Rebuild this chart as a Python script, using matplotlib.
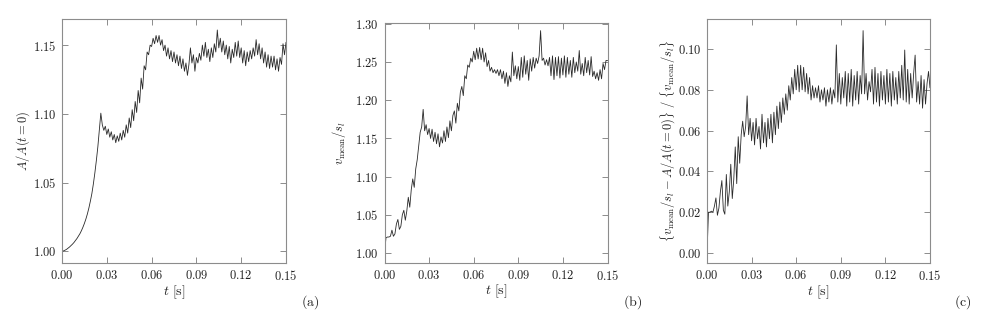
import matplotlib
matplotlib.use("Agg")
import matplotlib.pyplot as plt
import numpy as np
from matplotlib.ticker import FuncFormatter, MultipleLocator

plt.rcParams['mathtext.fontset'] = 'cm'
plt.rcParams['font.family'] = 'serif'
plt.rcParams['font.serif'] = ['DejaVu Serif']

# time axis, one sample every millisecond, 0 ... 0.150 s
t = np.arange(151) / 1000.0

# (a) flame surface area ratio A/A(t=0)
area = [
    1.0000, 1.0003, 1.0008, 1.0014, 1.0022, 1.0031, 1.0041, 1.0052, 1.0064, 1.0078,
    1.0093, 1.0110, 1.0128, 1.0150, 1.0175, 1.0203, 1.0235, 1.0272, 1.0315, 1.0365,
    1.0420, 1.0490, 1.0570, 1.0660, 1.0760, 1.0880, 1.1005, 1.092, 1.088, 1.091,
    1.085, 1.089, 1.083, 1.087, 1.081, 1.085, 1.079, 1.084, 1.080, 1.086,
    1.081, 1.088, 1.083, 1.092, 1.086, 1.097, 1.090, 1.103, 1.095, 1.109,
    1.101, 1.117, 1.108, 1.126, 1.118, 1.135, 1.132, 1.145, 1.143, 1.150,
    1.149, 1.155, 1.151, 1.157, 1.152, 1.157, 1.150, 1.154, 1.146, 1.150,
    1.142, 1.148, 1.140, 1.146, 1.138, 1.145, 1.137, 1.143, 1.135, 1.142,
    1.133, 1.140, 1.131, 1.137, 1.128, 1.136, 1.148, 1.137, 1.143, 1.131,
    1.141, 1.137, 1.144, 1.139, 1.150, 1.142, 1.152, 1.141, 1.147, 1.138,
    1.148, 1.141, 1.151, 1.145, 1.161, 1.148, 1.155, 1.145, 1.153, 1.143,
    1.150, 1.140, 1.149, 1.137, 1.147, 1.141, 1.152, 1.142, 1.153, 1.141,
    1.148, 1.137, 1.146, 1.135, 1.145, 1.138, 1.146, 1.140, 1.148, 1.142,
    1.154, 1.143, 1.151, 1.140, 1.148, 1.137, 1.145, 1.134, 1.143, 1.133,
    1.142, 1.134, 1.142, 1.132, 1.140, 1.131, 1.141, 1.136, 1.151, 1.143,
    1.152,
]

# (b) mean flame speed v_mean/s_l
speed = [
    1.000, 1.020, 1.021, 1.021, 1.022, 1.030, 1.022, 1.025, 1.038, 1.044,
    1.031, 1.035, 1.050, 1.056, 1.043, 1.055, 1.073, 1.060, 1.083, 1.097,
    1.086, 1.110, 1.122, 1.140, 1.158, 1.165, 1.188, 1.160, 1.168, 1.155,
    1.163, 1.150, 1.162, 1.146, 1.158, 1.143, 1.156, 1.139, 1.152, 1.144,
    1.160, 1.146, 1.165, 1.151, 1.173, 1.160, 1.180, 1.186, 1.170, 1.196,
    1.186, 1.210, 1.218, 1.206, 1.232, 1.228, 1.246, 1.243, 1.255, 1.250,
    1.264, 1.253, 1.268, 1.254, 1.269, 1.253, 1.268, 1.250, 1.262, 1.244,
    1.252, 1.238, 1.243, 1.236, 1.240, 1.235, 1.240, 1.232, 1.240, 1.228,
    1.238, 1.222, 1.236, 1.218, 1.232, 1.224, 1.263, 1.232, 1.245, 1.228,
    1.244, 1.226, 1.256, 1.230, 1.258, 1.234, 1.252, 1.226, 1.254, 1.238,
    1.256, 1.242, 1.255, 1.248, 1.258, 1.291, 1.252, 1.255, 1.246, 1.253,
    1.245, 1.256, 1.232, 1.258, 1.227, 1.256, 1.232, 1.257, 1.229, 1.255,
    1.233, 1.258, 1.230, 1.256, 1.234, 1.252, 1.230, 1.256, 1.236, 1.250,
    1.238, 1.265, 1.234, 1.248, 1.232, 1.256, 1.236, 1.252, 1.233, 1.257,
    1.231, 1.238, 1.228, 1.236, 1.226, 1.240, 1.228, 1.248, 1.240, 1.252,
    1.252,
]

# (c) relative difference {v_mean/s_l - A/A(t=0)} / {v_mean/s_l}
diff = [
    0.000, 0.020, 0.020, 0.0205, 0.020, 0.023, 0.027, 0.0185, 0.022, 0.030,
    0.0355, 0.021, 0.019, 0.0385, 0.023, 0.030, 0.0435, 0.0267, 0.036, 0.052,
    0.034, 0.057, 0.044, 0.058, 0.0646, 0.057, 0.062, 0.077, 0.058, 0.066,
    0.055, 0.064, 0.053, 0.066, 0.056, 0.062, 0.051, 0.068, 0.054, 0.064,
    0.052, 0.066, 0.056, 0.068, 0.054, 0.069, 0.058, 0.072, 0.061, 0.074,
    0.064, 0.076, 0.068, 0.078, 0.070, 0.082, 0.075, 0.086, 0.078, 0.090,
    0.080, 0.092, 0.079, 0.092, 0.080, 0.091, 0.079, 0.088, 0.078, 0.086,
    0.075, 0.082, 0.076, 0.081, 0.076, 0.082, 0.074, 0.080, 0.075, 0.081,
    0.072, 0.080, 0.074, 0.081, 0.073, 0.080, 0.076, 0.102, 0.074, 0.088,
    0.073, 0.086, 0.076, 0.089, 0.072, 0.088, 0.074, 0.090, 0.072, 0.087,
    0.075, 0.089, 0.073, 0.087, 0.078, 0.109, 0.078, 0.088, 0.075, 0.084,
    0.079, 0.090, 0.073, 0.091, 0.074, 0.088, 0.072, 0.089, 0.075, 0.087,
    0.073, 0.090, 0.074, 0.088, 0.072, 0.089, 0.075, 0.086, 0.073, 0.089,
    0.076, 0.092, 0.075, 0.0995, 0.074, 0.090, 0.073, 0.088, 0.076, 0.088,
    0.097, 0.074, 0.084, 0.073, 0.087, 0.071, 0.085, 0.073, 0.083, 0.089,
    0.081,
]

xticks = [0.00, 0.03, 0.06, 0.09, 0.12, 0.15]

panels = [
    # series, ylim, ytick step, ylabel, axes rect, ylabel x, tag, tag x
    (area, (0.9915, 1.169), 0.05, r'$A/A(t=0)$',
     [62/981, 50/313, 224/981, 244/313], -0.135, 'a', 310),
    (speed, (0.987, 1.301), 0.05, r'$v_\mathrm{mean}/s_l$',
     [384.5/981, 50/313, 223/981, 240/313], -0.165, 'b', 633),
    (diff, (-0.0049, 0.1147), 0.02,
     r'$\{v_\mathrm{mean}/s_l - A/A(t=0)\}\ /\ \{v_\mathrm{mean}/s_l\}$',
     [707/981, 50/313, 223/981, 244/313], -0.128, 'c', 963),
]

fig = plt.figure(figsize=(9.81, 3.13), dpi=100)
frame = '#8c8c8c'
ink = '#222222'

for series, ylim, step, ylabel, rect, ylx, tag, tagx in panels:
    ax = fig.add_axes(rect)
    ax.plot(t, series, color='#2a2a2a', lw=0.6)
    ax.set_xlim(0, 0.15)
    ax.set_ylim(*ylim)
    ax.set_xticks(xticks)
    ax.yaxis.set_major_locator(MultipleLocator(step))
    ax.xaxis.set_major_formatter(FuncFormatter(lambda v, p: r'$%.2f$' % v))
    ax.yaxis.set_major_formatter(FuncFormatter(lambda v, p: r'$%.2f$' % (0.0 if abs(v) < 1e-9 else v)))
    ax.tick_params(direction='in', top=True, right=True, length=4, width=0.7,
                   color=frame, labelsize=9, labelcolor=ink, pad=4)
    for s in ax.spines.values():
        s.set_color(frame)
        s.set_linewidth(0.8)
    ax.set_xlabel(r'$t\ [\mathrm{s}]$', fontsize=10, color=ink)
    ax.xaxis.set_label_coords(0.5, -0.082)
    ax.xaxis.label.set_va('top')
    ax.set_ylabel(ylabel, fontsize=9, color=ink)
    ax.yaxis.set_label_coords(ylx, 0.5)
    fig.text(tagx / 981, 1 - 302 / 313, r'$(\mathrm{%s})$' % tag, fontsize=10,
             ha='center', va='center', color=ink)

fig.savefig('out.png', dpi=100)
